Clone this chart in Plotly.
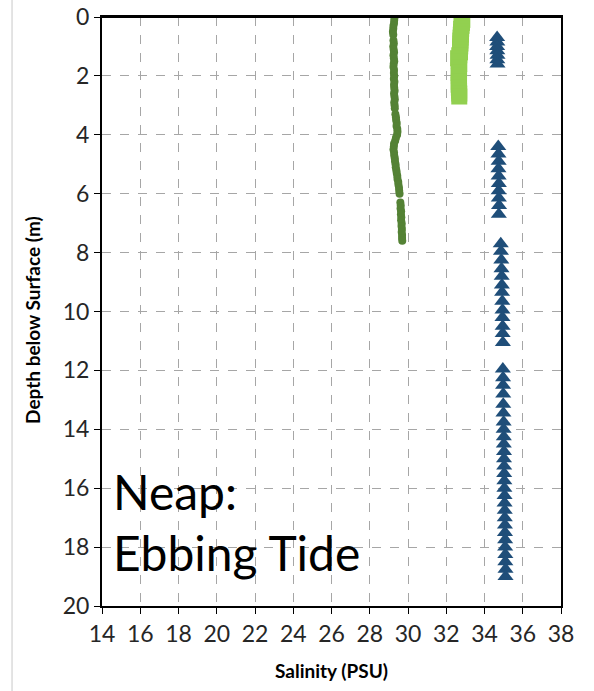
import plotly.graph_objects as go

# Dark green circles (depth m, salinity PSU)
dg_depth = [0.0, 0.1, 0.2, 0.3, 0.4, 0.5, 0.6,
            0.8, 0.9, 1.0, 1.1, 1.2, 1.3, 1.4, 1.5, 1.6, 1.7, 1.8, 1.9, 2.0, 2.1, 2.2, 2.3, 2.4, 2.5, 2.6, 2.7, 2.8, 2.9, 3.0, 3.1,
            3.3, 3.4, 3.5, 3.6, 3.7, 3.8, 3.9, 4.0, 4.1, 4.2, 4.3, 4.4, 4.5, 4.6, 4.7, 4.8, 4.9, 5.0, 5.1, 5.2, 5.3, 5.4, 5.5, 5.6, 5.7, 5.8, 5.9, 6.0,
            6.3, 6.4, 6.5, 6.6, 6.7, 6.8, 6.9, 7.0, 7.1, 7.2, 7.3, 7.4, 7.5, 7.6]
dg_sal = [29.30, 29.28, 29.27, 29.24, 29.23, 29.21, 29.23,
          29.24, 29.26, 29.23, 29.25, 29.27, 29.24, 29.26, 29.28, 29.25, 29.24, 29.27, 29.26, 29.28, 29.26, 29.29, 29.27, 29.28, 29.30, 29.27, 29.29, 29.31, 29.28, 29.30, 29.31,
          29.34, 29.37, 29.38, 29.41, 29.40, 29.44, 29.45, 29.43, 29.37, 29.33, 29.27, 29.26, 29.24, 29.27, 29.28, 29.31, 29.32, 29.35, 29.36, 29.39, 29.41, 29.44, 29.45, 29.49, 29.50, 29.53, 29.54, 29.56,
          29.60, 29.62, 29.61, 29.64, 29.63, 29.65, 29.64, 29.67, 29.66, 29.68, 29.67, 29.69, 29.69, 29.70]

# Light green squares
lg_depth = [0.0, 0.1, 0.2, 0.3, 0.4, 0.5, 0.6, 0.7, 0.8, 0.9, 1.0, 1.1, 1.2, 1.3, 1.4,
            1.5, 1.6, 1.7, 1.8, 1.9, 2.0, 2.1, 2.2, 2.3, 2.4, 2.5, 2.6, 2.7]
lg_sal = [32.82, 32.84, 32.82, 32.80, 32.78, 32.77, 32.76, 32.75, 32.74, 32.74, 32.73, 32.72, 32.72, 32.68, 32.62,
          32.66, 32.68, 32.67, 32.66, 32.65, 32.66, 32.67, 32.66, 32.65, 32.66, 32.67, 32.68, 32.68]

# Dark blue triangles
bl_depth = [0.70, 0.85, 1.00, 1.15, 1.30, 1.45, 1.60,
            4.40, 4.65, 4.90, 5.15, 5.40, 5.65, 5.90, 6.15, 6.40, 6.70,
            7.70, 7.95, 8.25, 8.55, 8.80, 9.10, 9.35, 9.65, 9.95, 10.20, 10.50, 10.75, 11.05,
            11.95, 12.25, 12.50, 12.80, 13.15, 13.45, 13.75, 14.00, 14.25, 14.50, 14.75, 15.00, 15.25,
            15.50, 15.75, 16.00, 16.25, 16.50, 16.75, 17.00, 17.25, 17.50, 17.75, 18.00, 18.25, 18.50, 18.75, 19.00]
bl_sal = [34.66, 34.67, 34.66, 34.67, 34.68, 34.67, 34.68,
          34.72, 34.73, 34.74, 34.73, 34.74, 34.75, 34.74, 34.75, 34.76, 34.75,
          34.85, 34.86, 34.88, 34.89, 34.90, 34.91, 34.92, 34.93, 34.94, 34.94, 34.95, 34.95, 34.96,
          34.96, 34.97, 34.97, 34.98, 34.98, 34.99, 35.00, 35.00, 35.01, 35.01, 35.02, 35.02, 35.03,
          35.03, 35.04, 35.04, 35.05, 35.05, 35.06, 35.06, 35.07, 35.07, 35.08, 35.08, 35.09, 35.09, 35.10, 35.10]

x_ticks = list(range(14, 39, 2))
y_ticks = list(range(0, 21, 2))

fig = go.Figure()
fig.add_trace(go.Scatter(x=dg_sal, y=dg_depth, mode="markers",
                         marker=dict(symbol="circle", size=8, color="#548235"), showlegend=False))
fig.add_trace(go.Scatter(x=lg_sal, y=lg_depth, mode="markers",
                         marker=dict(symbol="square", size=16, color="#92D050"), showlegend=False))
fig.add_trace(go.Scatter(x=bl_sal, y=bl_depth, mode="markers",
                         marker=dict(symbol="triangle-up", size=14, color="#1F4E79"), showlegend=False))

tick_font = dict(family="Lato", size=23, color="#262626")
title_font = dict(family="Lato", size=19, color="#000000")

fig.update_xaxes(range=[14, 38], tickvals=x_ticks, ticktext=[str(v) for v in x_ticks],
                 showgrid=True, gridcolor="#a6a6a6", griddash="dash", gridwidth=1,
                 showline=True, linecolor="black", linewidth=2, mirror=True,
                 ticks="outside", ticklen=6, tickcolor="black", tickfont=tick_font,
                 zeroline=False, automargin=False)
fig.update_yaxes(range=[20, 0], tickvals=y_ticks, ticktext=[str(v) for v in y_ticks],
                 showgrid=True, gridcolor="#a6a6a6", griddash="dash", gridwidth=1,
                 showline=True, linecolor="black", linewidth=2, mirror=True,
                 ticks="outside", ticklen=6, tickcolor="black", tickfont=tick_font,
                 zeroline=False, automargin=False)

# axis titles
fig.add_annotation(x=0.499, y=-0.109, xref="paper", yref="paper", text="<b>Salinity (PSU)</b>",
                   showarrow=False, xanchor="center", yanchor="middle", font=title_font)
fig.add_annotation(x=-0.150, y=0.486, xref="paper", yref="paper", text="<b>Depth below Surface (m)</b>",
                   showarrow=False, xanchor="center", yanchor="middle", textangle=-90, font=title_font)

fig.add_annotation(x=14.45, y=16.1, xref="x", yref="y", text="Neap:", showarrow=False,
                   xanchor="left", yanchor="middle", font=dict(family="Lato", size=48, color="black"))
fig.add_annotation(x=14.45, y=18.2, xref="x", yref="y", text="Ebbing Tide", showarrow=False,
                   xanchor="left", yanchor="middle", font=dict(family="Lato", size=48, color="black"))

# top border of plot area drawn explicitly
fig.add_shape(type="line", xref="paper", yref="paper", x0=0, x1=1, y0=1, y1=1,
              line=dict(color="black", width=2), layer="above")

# thin grey chart border on the left edge
fig.add_shape(type="line", xref="paper", yref="paper", x0=-0.196, x1=-0.196, y0=-0.15, y1=1.03,
              line=dict(color="#c8c8c8", width=1))

fig.update_layout(width=594, height=691, margin=dict(l=102, r=33, t=17, b=85),
                  paper_bgcolor="white", plot_bgcolor="white")

fig.write_html("out.html", config={"displayModeBar": False},
               post_script="document.body.style.margin='0';")
